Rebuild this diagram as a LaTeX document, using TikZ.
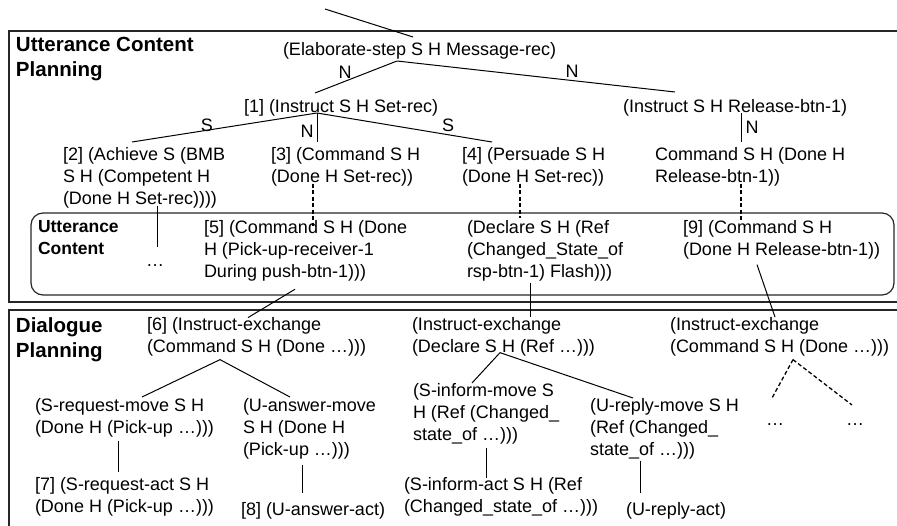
\documentclass[tikz,border=0pt]{standalone}
\usepackage{fontspec}
\setmainfont{Liberation Sans}
\usetikzlibrary{calc}
\newcommand\txtfont{\fontsize{18}{22}\selectfont}
\newcommand\headfont{\fontsize{20.5}{25}\selectfont\bfseries}
\newcommand\boxlabelfont{\fontsize{17.5}{22}\selectfont\bfseries}

\begin{document}
\begin{tikzpicture}[x=1pt,y=-1pt,
  txt/.style={anchor=north west, inner sep=0pt, outer sep=0pt, align=left,
    font=\txtfont, yshift=15.4pt,
    execute at begin node=\strut, execute at end node=\strut},
  head/.style={anchor=north west, inner sep=0pt, outer sep=0pt, align=left,
    font=\headfont, yshift=17.5pt,
    execute at begin node=\strut, execute at end node=\strut},
  boxlabel/.style={anchor=north west, inner sep=0pt, outer sep=0pt, align=left,
    font=\boxlabelfont, yshift=15.4pt,
    execute at begin node=\strut, execute at end node=\strut},
  lab/.style={anchor=base, inner sep=0pt, font=\txtfont},
  dots/.style={anchor=base, inner sep=0pt, font=\txtfont},
  frame/.style={line width=1.4pt, draw=black!85},
  ucbox/.style={line width=1.2pt, draw=black!85, rounded corners=12pt},
  link/.style={line width=1pt},
  dlink/.style={line width=1.3pt, dash pattern=on 4pt off 2.5pt},
]
\useasboundingbox (0,0) rectangle (897,525);
\clip (0,0) rectangle (897,525);

% section frames
\draw[frame] (905,31) -- (9,31) -- (9,302) -- (905,302);
\draw[frame] (905,310) -- (9,310) -- (9,535);
\draw[ucbox] (31,213) rectangle (894,295);

% section titles
\node[head] (t1) at (16,55) {Utterance Content\\Planning};
\node[head] (t2) at (16,335) {Dialogue\\Planning};
\node[boxlabel] (ucl) at (38,236) {Utterance\\Content};

% utterance content planning tree
\node[txt] (elab) at (283,55) {(Elaborate-step S H Message-rec)};
\node[txt] (n1) at (244,112) {[1] (Instruct S H Set-rec)};
\node[txt] (rel) at (623,112) {(Instruct S H Release-btn-1)};
\node[txt] (n2) at (63,163) {[2] (Achieve S (BMB\\S H (Competent H\\(Done H Set-rec))))};
\node[txt] (n3) at (271,163) {[3] (Command S H\\(Done H Set-rec))};
\node[txt] (n4) at (462,163) {[4] (Persuade S H\\(Done H Set-rec))};
\node[txt] (cmdr) at (655,163) {Command S H (Done H\\Release-btn-1))};

% utterance content
\node[dots] (d1) at (155,266) {…};
\node[txt] (n5) at (204,236) {[5] (Command S H (Done\\H (Pick-up-receiver-1\\During push-btn-1)))};
\node[txt] (decl) at (467,236) {(Declare S H (Ref\\(Changed\_State\_of\\rsp-btn-1) Flash)))};
\node[txt] (n9) at (683,236) {[9] (Command S H\\(Done H Release-btn-1))};

% dialogue planning
\node[txt] (n6) at (147,333) {[6] (Instruct-exchange\\(Command S H (Done …)))};
\node[txt] (ie2) at (412,333) {(Instruct-exchange\\(Declare S H (Ref …)))};
\node[txt] (ie3) at (670,333) {(Instruct-exchange\\(Command S H (Done …)))};
\node[txt] (sreq) at (35,414) {(S-request-move S H\\(Done H (Pick-up …)))};
\node[txt] (uans) at (243,414) {(U-answer-move\\S H (Done H\\(Pick-up …)))};
\node[txt] (n7) at (35,493) {[7] (S-request-act S H\\(Done H (Pick-up …)))};
\node[txt] (n8) at (241,515) {[8] (U-answer-act)};
\node[txt] (sinf) at (413,399) {(S-inform-move S\\H (Ref (Changed\_\\state\_of …)))};
\node[txt] (urep) at (590,414) {(U-reply-move S H\\(Ref (Changed\_\\state\_of …)))};
\node[txt] (sact) at (404,493) {(S-inform-act S H (Ref\\(Changed\_state\_of …)))};
\node[txt] (uact) at (626,515) {(U-reply-act)};
\node[dots] (d2) at (775,425) {…};
\node[dots] (d3) at (855,425) {…};

% relation labels
\node[lab] (lN1) at (345,78) {N};
\node[lab] (lN2) at (572,77) {N};
\node[lab] (lS1) at (207,131) {S};
\node[lab] (lN3) at (307,137) {N};
\node[lab] (lS2) at (448,131) {S};
\node[lab] (lN4) at (752,133) {N};

% connectors
\coordinate (root) at (325,9);
\draw[link] (root) -- ($(elab.north west)+(130,-2.6)$);
\draw[link] ($(elab.south west)+(114,-0.6)$) -- ($(n1.north west)+(71,-3.6)$);
\draw[link] ($(elab.south west)+(114,-0.6)$) -- ($(rel.north west)+(52,-4.6)$);
\draw[link] ($(n1.south west)+(73,-5.6)$) -- ($(n2.north west)+(69,-5.6)$);
\draw[link] ($(n1.south west)+(73,-5.6)$) -- ($(n3.north west)+(46,-5.6)$);
\draw[link] ($(n1.south west)+(73,-5.6)$) -- ($(n4.north west)+(30,-5.6)$);
\draw[link] ($(rel.south west)+(118,-5.6)$) -- ($(cmdr.north west)+(86,-5.6)$);
\draw[link] ($(n2.south west)+(94,-5.6)$) -- ($(d1.base)+(2,-19)$);
\draw[dlink] ($(n3.south west)+(42,-5.6)$) -- ($(n5.north west)+(109,5)$);
\draw[dlink] ($(n4.south west)+(58,-5.6)$) -- ($(decl.north west)+(53,-3)$);
\draw[dlink] ($(cmdr.south west)+(86,-5.6)$) -- ($(n9.north west)+(58,1)$);
\draw[link] ($(n5.south west)+(91,5)$) -- ($(n6.north west)+(101,0)$);
\draw[link] ($(decl.south west)+(63,-1.6)$) -- ($(ie2.north west)+(118,-0.6)$);
\draw[link] ($(n9.south west)+(74,2.4)$) -- ($(ie3.north west)+(105,-0.6)$);
\draw[link] ($(n6.south west)+(73,0.4)$) -- ($(sreq.north west)+(107,-1.6)$);
\draw[link] ($(n6.south west)+(73,0.4)$) -- ($(uans.north west)+(47,-1.6)$);
\draw[link] ($(sreq.south west)+(83,0.4)$) -- ($(n7.north west)+(83,-5.6)$);
\draw[link] ($(uans.south west)+(59,2.4)$) -- ($(n8.north west)+(61,-6.6)$);
\draw[link] ($(ie2.south west)+(88,-6.6)$) -- ($(sinf.north west)+(59,-0.6)$);
\draw[link] ($(ie2.south west)+(88,-6.6)$) -- ($(urep.north west)+(43,-0.6)$);
\draw[link] ($(sinf.south west)+(73,0.4)$) -- ($(sact.north west)+(82,0.4)$);
\draw[link] ($(urep.south west)+(50,-1.6)$) -- ($(uact.north west)+(14,-6.6)$);
\draw[dlink] ($(ie3.south west)+(123,0.4)$) -- ($(d2.base)+(-3,-27)$);
\draw[dlink] ($(ie3.south west)+(123,0.4)$) -- ($(d3.base)+(-3,-20)$);
\end{tikzpicture}
\end{document}
